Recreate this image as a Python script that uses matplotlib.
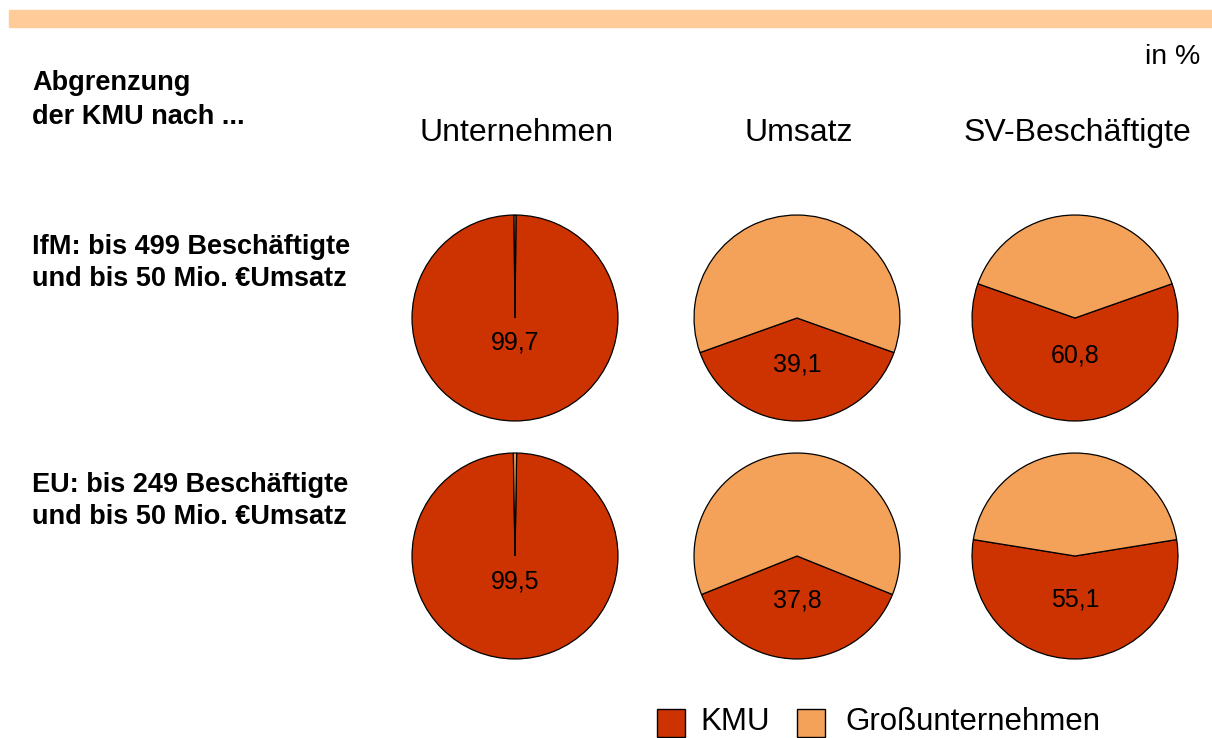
import matplotlib
matplotlib.use("Agg")
import matplotlib.pyplot as plt
from matplotlib.patches import Rectangle

plt.rcParams['font.family'] = ['Liberation Sans', 'DejaVu Sans']

columns = ["Unternehmen", "Umsatz", "SV-Beschäftigte"]
rows = ["IfM: bis 499 Beschäftigte\nund bis 50 Mio. €Umsatz",
        "EU: bis 249 Beschäftigte\nund bis 50 Mio. €Umsatz"]
kmu_ifm = [99.7, 39.1, 60.8]
kmu_eu = [99.5, 37.8, 55.1]
series = ["KMU", "Großunternehmen"]
colors = ["#CC3300", "#F4A25A"]

W, H = 1212, 738
fig = plt.figure(figsize=(W / 100, H / 100), dpi=100)

def px(x, y):
    return x / W, 1 - y / H

# orange band on top
fig.patches.append(Rectangle(px(9, 27), (W - 9) / W, 17 / H,
                             transform=fig.transFigure, color="#FFCC99", zorder=0))

fig.text(*px(1200, 57), "in %", ha="right", va="center", fontsize=20.5)
fig.text(*px(32, 100), "Abgrenzung\nder KMU nach ...", ha="left", va="center",
         fontsize=19.5, fontweight="bold", linespacing=1.4)

col_x = [515, 797, 1075]
row_y = [318, 556]
radius = 104
label_off = [[0.24, 0.45, 0.36], [0.25, 0.43, 0.42]]

for cx, name in zip(col_x, columns):
    fig.text(*px(cx + 2, 133), name, ha="center", va="center", fontsize=23)

for ry, label in zip(row_y, rows):
    fig.text(*px(32, ry - 55), label, ha="left", va="center",
             fontsize=19.5, fontweight="bold", linespacing=1.35)

for r, (ry, vals) in enumerate(zip(row_y, [kmu_ifm, kmu_eu])):
    for c, (cx, v) in enumerate(zip(col_x, vals)):
        x0, y0 = px(cx - radius, ry + radius)
        ax = fig.add_axes([x0, y0, 2 * radius / W, 2 * radius / H])
        start = 270 - v * 3.6 / 2
        ax.pie([v, 100 - v], colors=colors, startangle=start, counterclock=True,
               wedgeprops=dict(edgecolor="black", linewidth=0.9))
        ax.set_xlim(-1.01, 1.01)
        ax.set_ylim(-1.01, 1.01)
        ax.set_aspect("equal")
        ax.axis("off")
        ax.text(0, -label_off[r][c], f"{v:.1f}".replace(".", ","),
                ha="center", va="center", fontsize=18)

# legend
lx = [657, 797]
tx = [700, 845]
for x, tx_, name, col in zip(lx, tx, series, colors):
    fig.patches.append(Rectangle(px(x, 737), 28 / W, 28 / H, transform=fig.transFigure,
                                 facecolor=col, edgecolor="black", linewidth=1.0))
    fig.text(*px(tx_, 722), name, ha="left", va="center", fontsize=22.5)

fig.savefig("out.png", dpi=100)
